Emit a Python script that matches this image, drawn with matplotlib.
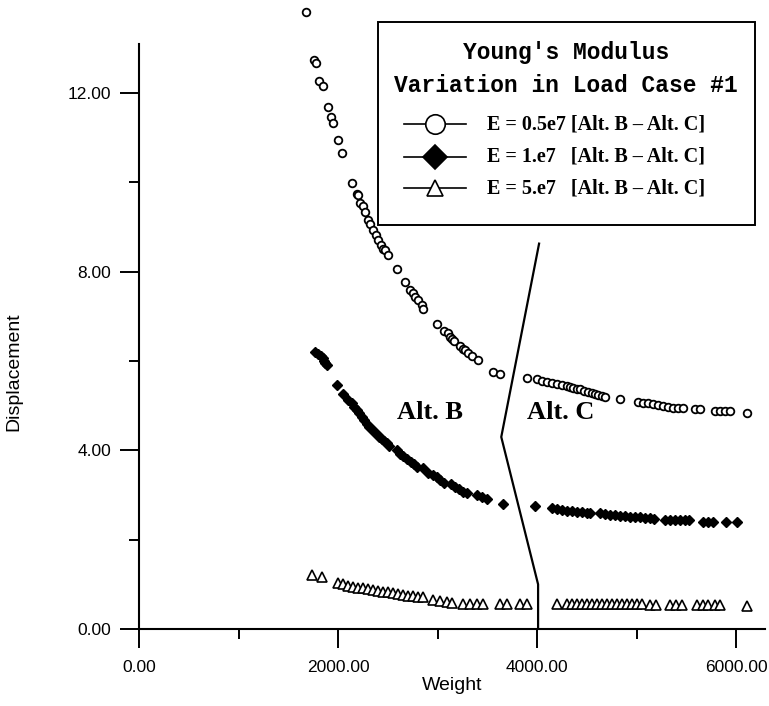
"""
Young's modulus variation, load case #1: displacement vs weight
"""
import matplotlib
matplotlib.use('Agg')
import matplotlib.pyplot as plt
from matplotlib.lines import Line2D
from matplotlib.patches import Rectangle

plt.rcParams['font.family'] = ['Liberation Sans', 'DejaVu Sans']

# ============================================================
# data
# ============================================================
e05_w = [1675, 1759, 1776, 1812, 1846, 1896, 1930, 1947, 1997, 2043, 2138, 2188, 2204,
         2221, 2254, 2271, 2305, 2322, 2349, 2382, 2405, 2429, 2449, 2472, 2506, 2590,
         2673, 2724, 2751, 2774, 2807, 2841, 2857, 2990, 3065, 3100, 3126, 3150, 3163,
         3226, 3253, 3276, 3310, 3344, 3410, 3561, 3628,
         3896, 3997, 4047, 4097, 4147, 4198, 4248, 4298, 4332, 4365, 4399, 4432, 4472,
         4516, 4549, 4583, 4616, 4650, 4683, 4834, 5018, 5068, 5119, 5169, 5219, 5269,
         5319, 5370, 5420, 5464, 5588, 5638, 5789, 5839, 5889, 5940, 6113]
e05_d = [13.82, 12.75, 12.68, 12.27, 12.17, 11.69, 11.47, 11.33, 10.95, 10.66, 9.99, 9.75, 9.72,
         9.54, 9.47, 9.34, 9.16, 9.07, 8.93, 8.82, 8.71, 8.60, 8.52, 8.48, 8.37, 8.07,
         7.77, 7.60, 7.52, 7.44, 7.37, 7.25, 7.16, 6.84, 6.68, 6.62, 6.55, 6.50, 6.45,
         6.34, 6.28, 6.25, 6.17, 6.11, 6.02, 5.76, 5.71,
         5.63, 5.59, 5.56, 5.54, 5.51, 5.48, 5.46, 5.44, 5.42, 5.40, 5.38, 5.37, 5.33,
         5.31, 5.29, 5.26, 5.24, 5.22, 5.20, 5.14, 5.09, 5.07, 5.05, 5.04, 5.01, 4.99,
         4.98, 4.96, 4.95, 4.94, 4.92, 4.92, 4.89, 4.89, 4.89, 4.88, 4.83]

e1_w = [1769, 1802, 1826, 1846, 1859, 1869, 1886, 1993, 2054,
        2104, 2138, 2161, 2188, 2214, 2238, 2261, 2288, 2314, 2338, 2362, 2389, 2415,
        2439, 2462, 2489, 2515, 2590, 2623, 2656, 2690, 2731, 2764, 2791, 2857, 2908,
        2951, 2992, 3025, 3065, 3133, 3176, 3219, 3259, 3293, 3394, 3444, 3494, 3655,
        3980, 4148, 4198, 4248, 4298, 4349, 4399, 4449, 4499, 4533, 4633, 4683, 4734,
        4784, 4834, 4884, 4935, 4985, 5035, 5085, 5136, 5176, 5286, 5337, 5387, 5437,
        5487, 5530, 5671, 5722, 5766, 5900, 6007]
e1_d = [6.21, 6.16, 6.11, 6.06, 6.01, 5.95, 5.91, 5.46, 5.26,
        5.13, 5.05, 4.98, 4.90, 4.83, 4.75, 4.68, 4.60, 4.52, 4.47, 4.42, 4.36, 4.30,
        4.25, 4.21, 4.16, 4.10, 4.01, 3.93, 3.87, 3.80, 3.75, 3.69, 3.63, 3.60, 3.50,
        3.45, 3.40, 3.34, 3.28, 3.25, 3.19, 3.13, 3.07, 3.04, 3.00, 2.95, 2.90, 2.81,
        2.75, 2.70, 2.68, 2.66, 2.65, 2.64, 2.63, 2.61, 2.59, 2.59, 2.59, 2.57, 2.56,
        2.55, 2.54, 2.53, 2.51, 2.50, 2.50, 2.49, 2.48, 2.46, 2.44, 2.44, 2.44, 2.44,
        2.44, 2.44, 2.40, 2.40, 2.40, 2.39, 2.39]

e5_w = [1736, 1836, 2003, 2053, 2104, 2154, 2204, 2254, 2305, 2355, 2405, 2455, 2506,
        2556, 2606, 2656, 2706, 2757, 2807, 2857, 2958, 3025, 3092, 3143, 3260, 3327,
        3394, 3461, 3628, 3702, 3829, 3903,
        4198, 4298, 4349, 4399, 4449, 4499, 4549, 4600, 4650, 4700, 4750, 4801, 4851,
        4901, 4951, 5002, 5052, 5136, 5196, 5337, 5397, 5454, 5605, 5671, 5722, 5789,
        5839, 6107]
e5_d = [1.22, 1.17, 1.02, 1.00, 0.97, 0.95, 0.92, 0.91, 0.89, 0.87, 0.85, 0.83, 0.82,
        0.80, 0.78, 0.76, 0.74, 0.74, 0.72, 0.71, 0.65, 0.63, 0.61, 0.59, 0.57, 0.57,
        0.57, 0.57, 0.55, 0.55, 0.55, 0.55,
        0.57, 0.57, 0.57, 0.57, 0.57, 0.57, 0.56, 0.56, 0.56, 0.56, 0.56, 0.55, 0.55,
        0.55, 0.55, 0.55, 0.55, 0.54, 0.54, 0.54, 0.54, 0.54, 0.54, 0.54, 0.54, 0.54,
        0.54, 0.52]

# Alt. B / Alt. C boundary
bound_w = [4020, 3640, 4010, 4010]
bound_d = [8.63, 4.30, 1.00, 0.00]

legend_labels = ['E = 0.5e7 [Alt. B \u2013 Alt. C]',
                 'E = 1.e7   [Alt. B \u2013 Alt. C]',
                 'E = 5.e7   [Alt. B \u2013 Alt. C]']

# ============================================================
# figure
# ============================================================
W, H = 769, 706
fig = plt.figure(figsize=(W / 100, H / 100), dpi=100)
ax = fig.add_axes([139 / W, 1 - 629 / H, (765 - 139) / W, (629 - 44) / H])

ax.plot(e05_w, e05_d, 'o', ms=5.5, mfc='white', mec='black', mew=1.3, ls='none', clip_on=False)
ax.plot(e1_w, e1_d, 'D', ms=5.5, mfc='black', mec='black', ls='none', clip_on=False)
ax.plot(e5_w, e5_d, '^', ms=7, mfc='white', mec='black', mew=1.2, ls='none', clip_on=False)
ax.plot(bound_w, bound_d, '-', color='black', lw=1.6)

ax.text(2925, 4.84, 'Alt. B', family='Liberation Serif', fontweight='bold', fontsize=19,
        ha='center', va='center')
ax.text(4241, 4.84, 'Alt. C', family='Liberation Serif', fontweight='bold', fontsize=19,
        ha='center', va='center')

ax.set_xlim(0, 6290)
ax.set_ylim(0, 13.1)
ax.set_xticks([0, 2000, 4000, 6000])
ax.set_xticks([1000, 3000, 5000], minor=True)
ax.set_yticks([0, 4, 8, 12])
ax.set_yticks([2, 6, 10], minor=True)
ax.xaxis.set_major_formatter(matplotlib.ticker.FormatStrFormatter('%.2f'))
ax.yaxis.set_major_formatter(matplotlib.ticker.FormatStrFormatter('%.2f'))
ax.tick_params(which='major', direction='out', length=14, width=1.4, labelsize=12.5)
ax.tick_params(which='minor', direction='out', length=7, width=1.4)
ax.tick_params(axis='x', pad=8)
ax.tick_params(axis='y', pad=6)
for side in ['top', 'right']:
    ax.spines[side].set_visible(False)
for side in ['left', 'bottom']:
    ax.spines[side].set_linewidth(1.5)

ax.set_xlabel('Weight', fontsize=14, labelpad=2)
ax.set_ylabel('Displacement', fontsize=14)
ax.yaxis.set_label_coords(-(139 - 22) / (765 - 139), 0.44)

# ============================================================
# legend box (drawn by hand, pixel positions)
# ============================================================
def fx(px):
    return px / W


def fy(py):
    return 1 - py / H


fig.patches.append(Rectangle((fx(378), fy(225)), fx(755) - fx(378), fy(22) - fy(225),
                             transform=fig.transFigure, fill=False, ec='black', lw=1.4))
fig.text(fx(566), fy(53), "Young's Modulus", family='Liberation Mono', fontweight='bold',
         fontsize=16.5, ha='center', va='center')
fig.text(fx(566), fy(85), 'Variation in Load Case #1', family='Liberation Mono',
         fontweight='bold', fontsize=16.5, ha='center', va='center')

markers = [('o', 14, 'white'), ('D', 12, 'black'), ('^', 11, 'white')]
rows_y = [124, 157, 188]
for (m, s, fc), ry, lab in zip(markers, rows_y, legend_labels):
    fig.add_artist(Line2D([fx(404), fx(466)], [fy(ry), fy(ry)], transform=fig.transFigure,
                          color='black', lw=1.2))
    fig.add_artist(Line2D([fx(435)], [fy(ry)], transform=fig.transFigure, marker=m, ms=s,
                          mfc=fc, mec='black', mew=1.2, ls='none'))
    fig.text(fx(487), fy(ry), lab, family='Liberation Serif', fontweight='bold',
             fontsize=14.5, ha='left', va='center')

fig.savefig('out.png', dpi=100)
print("Saved: out.png")
